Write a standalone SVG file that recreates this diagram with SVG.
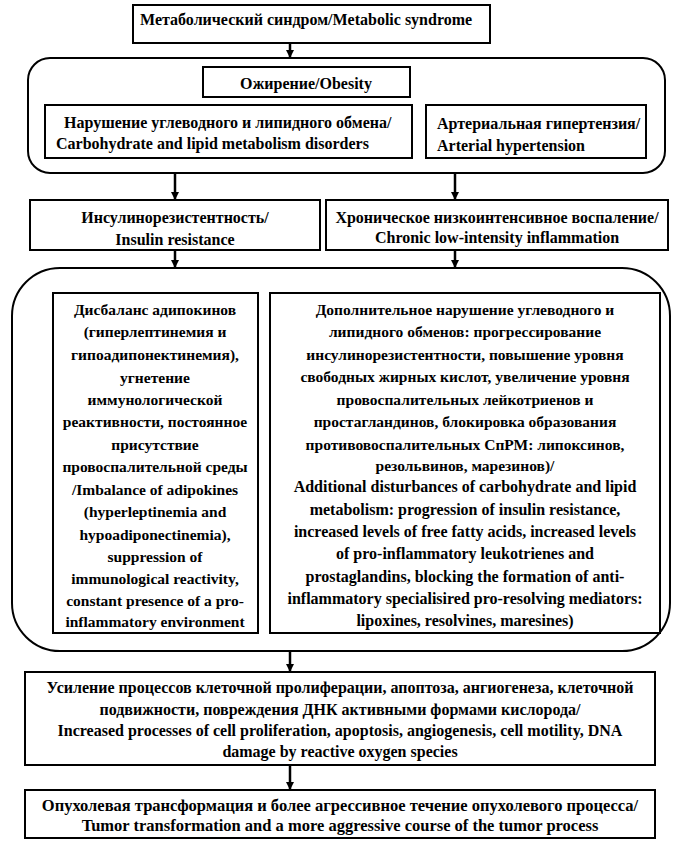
<svg xmlns="http://www.w3.org/2000/svg" width="680" height="844" viewBox="0 0 680 844">
<defs>
<marker id="ah" viewBox="0 0 10 10" refX="10" refY="5" markerWidth="3.2" markerHeight="3.2" orient="auto" markerUnits="strokeWidth">
<path d="M0,0 L10,5 L0,10 z" fill="#000"/>
</marker>
<style>
.box{fill:#fff;stroke:#000;stroke-width:2}
.grp{fill:none;stroke:#000;stroke-width:2}
.t{font-family:"Liberation Serif","Times New Roman",serif;font-size:16px;font-weight:bold;fill:#000}
.s{font-size:15.5px}
.b{font-size:16.5px}
.c{text-anchor:middle}
.con{stroke:#000;stroke-width:2.5;fill:none;marker-end:url(#ah)}
</style>
</defs>
<rect width="680" height="844" fill="#fff"/>
<g id="group-top"><rect class="grp" x="28" y="58" width="637" height="115" rx="22"/></g>
<g id="group-mid"><rect class="grp" x="12" y="268" width="658" height="383" rx="48"/></g>
<g id="connectors">
<line class="con" x1="290" y1="43" x2="290" y2="58"/>
<line class="con" x1="175" y1="173" x2="175" y2="200"/>
<line class="con" x1="455" y1="173" x2="455" y2="200"/>
<line class="con" x1="175" y1="250" x2="175" y2="268"/>
<line class="con" x1="455" y1="250" x2="455" y2="268"/>
<line class="con" x1="290" y1="651" x2="290" y2="672"/>
<line class="con" x1="290" y1="765" x2="290" y2="790"/>
</g>
<g id="n-metabolic"><rect class="box" x="133" y="5" width="357" height="38"/>
<text class="t" x="140" y="25">Метаболический синдром/Metabolic syndrome</text></g>
<g id="n-obesity"><rect class="box" x="203" y="67" width="207" height="30"/>
<text class="t c" x="306" y="89">Ожирение/Obesity</text></g>
<g id="n-carb"><rect class="box" x="45" y="105" width="367" height="53"/>
<text class="t" x="64" y="128">Нарушение углеводного и липидного обмена/</text>
<text class="t" x="56" y="149">Carbohydrate and lipid metabolism disorders</text></g>
<g id="n-hypert"><rect class="box" x="426" y="105" width="220" height="53"/>
<text class="t" x="437" y="129">Артериальная гипертензия/</text>
<text class="t" x="437" y="151">Arterial hypertension</text></g>
<g id="n-insulin"><rect class="box" x="30" y="200" width="290" height="50"/>
<text class="t c" x="175" y="223">Инсулинорезистентность/</text>
<text class="t c" x="175" y="245">Insulin resistance</text></g>
<g id="n-chronic"><rect class="box" x="326" y="200" width="342" height="50"/>
<text class="t c" x="497" y="223">Хроническое низкоинтенсивное воспаление/</text>
<text class="t c" x="497" y="243">Chronic low-intensity inflammation</text></g>
<g id="n-imbalance"><rect class="box" x="53" y="293" width="205" height="340"/>
<text class="t s c" x="155" y="315">Дисбаланс адипокинов</text>
<text class="t s c" x="155" y="337">(гиперлептинемия и</text>
<text class="t s c" x="155" y="360">гипоадипонектинемия),</text>
<text class="t s c" x="155" y="383">угнетение</text>
<text class="t s c" x="155" y="405">иммунологической</text>
<text class="t s c" x="155" y="427">реактивности, постоянное</text>
<text class="t s c" x="155" y="450">присутствие</text>
<text class="t s c" x="155" y="472">провоспалительной среды</text>
<text class="t s c" x="155" y="495">/Imbalance of adipokines</text>
<text class="t s c" x="155" y="517">(hyperleptinemia and</text>
<text class="t s c" x="155" y="540">hypoadiponectinemia),</text>
<text class="t s c" x="155" y="562">suppression of</text>
<text class="t s c" x="155" y="584">immunological reactivity,</text>
<text class="t s c" x="155" y="606">constant presence of a pro-</text>
<text class="t s c" x="155" y="627">inflammatory environment</text></g>
<g id="n-additional"><rect class="box" x="270" y="293" width="390" height="340"/>
<text class="t s c" x="465" y="315">Дополнительное нарушение углеводного и</text>
<text class="t s c" x="465" y="337">липидного обменов: прогрессирование</text>
<text class="t s c" x="465" y="360">инсулинорезистентности, повышение уровня</text>
<text class="t s c" x="465" y="382">свободных жирных кислот, увеличение уровня</text>
<text class="t s c" x="465" y="405">провоспалительных лейкотриенов и</text>
<text class="t s c" x="465" y="427">простагландинов, блокировка образования</text>
<text class="t s c" x="465" y="450">противовоспалительных СпРМ: липоксинов,</text>
<text class="t s c" x="465" y="471">резольвинов, марезинов)/</text>
<text class="t c" x="465" y="492">Additional disturbances of carbohydrate and lipid</text>
<text class="t c" x="465" y="515">metabolism: progression of insulin resistance,</text>
<text class="t c" x="465" y="537">increased levels of free fatty acids, increased levels</text>
<text class="t c" x="465" y="559">of pro-inflammatory leukotrienes and</text>
<text class="t c" x="465" y="582">prostaglandins, blocking the formation of anti-</text>
<text class="t c" x="465" y="604">inflammatory specialisired pro-resolving mediators:</text>
<text class="t c" x="465" y="626">lipoxines, resolvines, maresines)</text></g>
<g id="n-processes"><rect class="box" x="25" y="672" width="630" height="93"/>
<text class="t c" x="340" y="693">Усиление процессов клеточной пролиферации, апоптоза, ангиогенеза, клеточной</text>
<text class="t c" x="340" y="715">подвижности, повреждения ДНК активными формами кислорода/</text>
<text class="t c" x="340" y="736">Increased processes of cell proliferation, apoptosis, angiogenesis, cell motility, DNA</text>
<text class="t c" x="340" y="757">damage by reactive oxygen species</text></g>
<g id="n-tumor"><rect class="box" x="25" y="790" width="630" height="48"/>
<text class="t b c" x="340" y="811">Опухолевая трансформация и более агрессивное течение опухолевого процесса/</text>
<text class="t b c" x="340" y="831">Tumor transformation and a more aggressive course of the tumor process</text></g>
</svg>
